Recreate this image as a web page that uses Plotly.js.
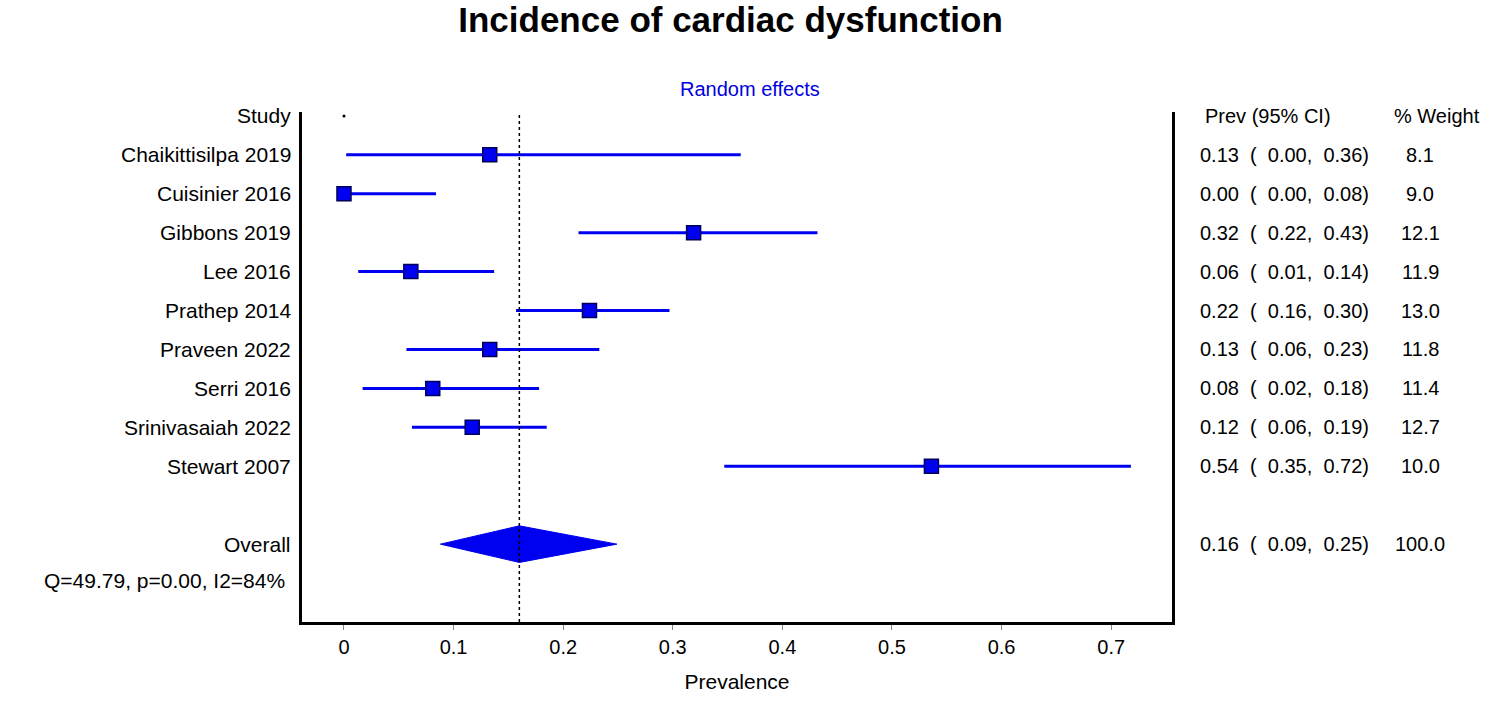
<!DOCTYPE html>
<html>
<head>
<meta charset="utf-8">
<script src="https://cdn.plot.ly/plotly-3.0.1.min.js"></script>
<style>
  html, body { margin: 0; padding: 0; background: #ffffff; }
  #chart { width: 1500px; height: 725px; }
</style>
</head>
<body>
<div id="chart"></div>
<script>
// ---- data ----
const studies = ["Chaikittisilpa 2019", "Cuisinier 2016", "Gibbons 2019", "Lee 2016", "Prathep 2014",
                 "Praveen 2022", "Serri 2016", "Srinivasaiah 2022", "Stewart 2007"];
const prev   = [0.133, 0.000, 0.319, 0.061, 0.224, 0.133, 0.081, 0.117, 0.536];
const ciLow  = [0.002, 0.000, 0.214, 0.013, 0.157, 0.057, 0.017, 0.062, 0.347];
const ciHigh = [0.362, 0.084, 0.432, 0.137, 0.297, 0.233, 0.178, 0.185, 0.718];
const prevTxt  = ["0.13", "0.00", "0.32", "0.06", "0.22", "0.13", "0.08", "0.12", "0.54"];
const lowTxt   = ["0.00", "0.00", "0.22", "0.01", "0.16", "0.06", "0.02", "0.06", "0.35"];
const highTxt  = ["0.36", "0.08", "0.43", "0.14", "0.30", "0.23", "0.18", "0.19", "0.72"];
const weights  = ["8.1", "9.0", "12.1", "11.9", "13.0", "11.8", "11.4", "12.7", "10.0"];

const overallLabel = "Overall";
const overallPrev = 0.16, overallLow = 0.088, overallHigh = 0.249;
const overallTxt = ["0.16", "0.09", "0.25"];
const overallWeight = "100.0";
const hetText = "Q=49.79, p=0.00, I2=84%";

const xTicks = [0, 0.1, 0.2, 0.3, 0.4, 0.5, 0.6, 0.7];
const xTickText = ["0", "0.1", "0.2", "0.3", "0.4", "0.5", "0.6", "0.7"];

// ---- layout helpers ----
const rows = studies.map((_, i) => i + 1);      // study rows
const headerRow = 0;
const overallRow = 11;
const hetRow = 12;
const diamondHalf = 0.47;

const FONT = "Liberation Sans, Arial, sans-serif";
const BLUE = "#0000f0";
const nb = "\u00a0";

function ciString(p, l, h) {
  return p + nb + nb + "(" + nb + nb + l + "," + nb + nb + h + ")";
}

const traces = [];

// study estimates with CI
traces.push({
  type: "scatter",
  mode: "markers",
  x: prev,
  y: rows,
  marker: { symbol: "square", size: 14, color: BLUE, line: { color: "#00005a", width: 1.5 } },
  error_x: {
    type: "data",
    symmetric: false,
    array: prev.map((p, i) => ciHigh[i] - p),
    arrayminus: prev.map((p, i) => p - ciLow[i]),
    width: 0,
    thickness: 3,
    color: BLUE
  },
  cliponaxis: false,
  hoverinfo: "skip",
  showlegend: false
});

// overall diamond
traces.push({
  type: "scatter",
  mode: "lines",
  x: [overallLow, overallPrev, overallHigh, overallPrev, overallLow],
  y: [overallRow, overallRow - diamondHalf, overallRow, overallRow + diamondHalf, overallRow],
  fill: "toself",
  fillcolor: BLUE,
  line: { color: BLUE, width: 1 },
  hoverinfo: "skip",
  showlegend: false
});

// small dot at header row
traces.push({
  type: "scatter",
  mode: "markers",
  x: [0],
  y: [headerRow],
  marker: { size: 3, color: "#000" },
  hoverinfo: "skip",
  showlegend: false
});

const annotations = [];
const labelX = -0.0105;
const LBL = 21;
const leftLabels = [["Study", headerRow]].concat(studies.map((s, i) => [s, rows[i]]))
  .concat([[overallLabel, overallRow]]);
leftLabels.forEach(([t, r]) => {
  annotations.push({ xref: "paper", yref: "y", x: labelX, y: r, text: t, showarrow: false,
    xanchor: "right", yanchor: "middle", font: { family: FONT, size: LBL, color: "#000" } });
});
annotations.push({ xref: "paper", yref: "y", x: -0.0172, y: hetRow - 0.07, text: hetText, showarrow: false,
  xanchor: "right", yanchor: "middle", font: { family: FONT, size: LBL, color: "#000" } });

// right table
const colCI = (1198 - 302) / 870;
const colW = (1420 - 302) / 870;
const TBL = 20;
annotations.push({ xref: "paper", yref: "y", x: (1203 - 302) / 870, y: headerRow, text: "Prev (95% CI)",
  showarrow: false, xanchor: "left", yanchor: "middle", font: { family: FONT, size: TBL, color: "#000" } });
annotations.push({ xref: "paper", yref: "y", x: (1437 - 302) / 870, y: headerRow, text: "% Weight",
  showarrow: false, xanchor: "center", yanchor: "middle", font: { family: FONT, size: TBL, color: "#000" } });
studies.forEach((s, i) => {
  annotations.push({ xref: "paper", yref: "y", x: colCI, y: rows[i], text: ciString(prevTxt[i], lowTxt[i], highTxt[i]),
    showarrow: false, xanchor: "left", yanchor: "middle", font: { family: FONT, size: TBL, color: "#000" } });
  annotations.push({ xref: "paper", yref: "y", x: colW, y: rows[i], text: weights[i],
    showarrow: false, xanchor: "center", yanchor: "middle", font: { family: FONT, size: TBL, color: "#000" } });
});
annotations.push({ xref: "paper", yref: "y", x: colCI, y: overallRow, text: ciString(overallTxt[0], overallTxt[1], overallTxt[2]),
  showarrow: false, xanchor: "left", yanchor: "middle", font: { family: FONT, size: TBL, color: "#000" } });
annotations.push({ xref: "paper", yref: "y", x: colW, y: overallRow, text: overallWeight,
  showarrow: false, xanchor: "center", yanchor: "middle", font: { family: FONT, size: TBL, color: "#000" } });

// Random effects subtitle
annotations.push({ xref: "paper", yref: "paper", x: (750 - 302) / 870, y: (622 - 89) / 510, text: "Random effects",
  showarrow: false, xanchor: "center", yanchor: "middle", font: { family: FONT, size: 20, color: "#0000e0" } });

const layout = {
  width: 1500,
  height: 725,
  paper_bgcolor: "#ffffff",
  plot_bgcolor: "#ffffff",
  margin: { l: 302, r: 328, t: 112, b: 103, pad: 0 },
  title: {
    text: "<b>Incidence of cardiac dysfunction</b>",
    x: 0.487, xanchor: "center",
    y: 1 - 20 / 725, yanchor: "middle", yref: "container",
    font: { family: FONT, size: 35, color: "#000" }
  },
  xaxis: {
    range: [-0.0383, 0.7555],
    tickvals: xTicks,
    ticktext: xTickText,
    ticks: "outside",
    ticklen: 5,
    tickwidth: 1,
    tickcolor: "#888",
    showgrid: false,
    zeroline: false,
    showline: true,
    linecolor: "#000",
    linewidth: 3,
    tickfont: { family: FONT, size: 20, color: "#000" },
    title: { text: "Prevalence", font: { family: FONT, size: 21, color: "#000" }, standoff: 18 },
    fixedrange: true
  },
  yaxis: {
    range: [13.0, -0.1],
    showticklabels: false,
    ticks: "",
    showgrid: false,
    zeroline: false,
    showline: true,
    mirror: true,
    linecolor: "#000",
    linewidth: 3,
    fixedrange: true
  },
  shapes: [{
    type: "line", xref: "x", yref: "paper", x0: overallPrev, x1: overallPrev, y0: 0, y1: 1,
    line: { color: "#000", width: 1.5, dash: "dot" }
  }],
  annotations: annotations,
  showlegend: false
};

Plotly.newPlot("chart", traces, layout, { displayModeBar: false, staticPlot: true });
</script>
</body>
</html>
